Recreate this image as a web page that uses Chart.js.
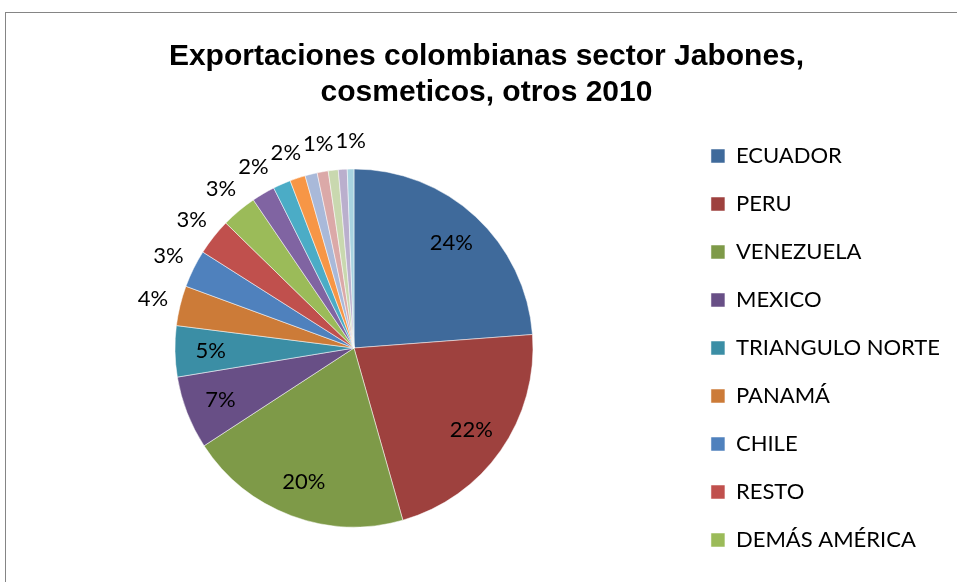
<!DOCTYPE html>
<html>
<head>
<meta charset="utf-8">
<script src="https://cdn.jsdelivr.net/npm/chart.js@4"></script>
<style>
  html, body { margin: 0; padding: 0; background: #fff; overflow: hidden; }
  #wrap { position: relative; width: 957px; height: 582px; }
  #frame { position: absolute; left: 5px; top: 12px; right: -10px; bottom: -10px; border: 1px solid #858585; }
  canvas { position: absolute; left: 0; top: 0; }
</style>
</head>
<body>
<div id="wrap">
  <div id="frame"></div>
  <canvas id="exportChart" width="957" height="582"></canvas>
</div>
<script>
const titulo = ['Exportaciones colombianas sector Jabones,', 'cosmeticos, otros 2010'];

const destinos = ['ECUADOR', 'PERU', 'VENEZUELA', 'MEXICO', 'TRIANGULO NORTE', 'PANAMÁ', 'CHILE', 'RESTO', 'DEMÁS AMÉRICA',
  'OTROS 1', 'OTROS 2', 'OTROS 3', 'OTROS 4', 'OTROS 5', 'OTROS 6', 'OTROS 7', 'OTROS 8'];

// participación (%) de cada destino
const participacion = [23.8, 21.8, 20.2, 6.6, 4.6, 3.6, 3.4, 3.3, 3.2,
  2.1, 1.6, 1.4, 1.1, 1.0, 0.9, 0.8, 0.6];

const colores = ['#3F6A9B', '#9E413E', '#7E9A48', '#684F86', '#3B8EA5', '#CC7B38', '#4F81BD', '#C0504D', '#9BBB59',
  '#8064A2', '#4BACC6', '#F79646', '#A9B9D9', '#DBA9A8', '#C9D8AF', '#BAAFCD', '#A8D3E0'];

const enLeyenda = 9;    // solo los primeros destinos van en la leyenda
const conEtiqueta = 13; // porciones con porcentaje
const fuente = 'Lato';

// ancho de la leyenda para dejarla pegada al borde derecho
const medir = document.createElement('canvas').getContext('2d');
medir.font = '22px ' + fuente;
const textoMax = Math.max(...destinos.slice(0, enLeyenda).map(t => medir.measureText(t).width));
const margenDer = Math.max(0, Math.round(957 - 685 - (26 + 14 + 11 + textoMax + 10)));

const etiquetas = {
  id: 'etiquetas',
  afterDatasetsDraw(chart) {
    const ctx = chart.ctx;
    const arcs = chart.getDatasetMeta(0).data;
    const total = participacion.reduce((a, b) => a + b, 0);
    ctx.save();
    ctx.font = '22px ' + fuente;
    ctx.fillStyle = '#000';
    ctx.textAlign = 'center';
    ctx.textBaseline = 'middle';
    let prev = null;
    arcs.forEach((arc, i) => {
      if (i >= conEtiqueta) return;
      const {x, y, startAngle, endAngle, outerRadius} =
        arc.getProps(['x', 'y', 'startAngle', 'endAngle', 'outerRadius'], true);
      const mid = (startAngle + endAngle) / 2;
      const txt = Math.round(participacion[i] * 100 / total) + '%';
      const w = ctx.measureText(txt).width;
      if (i < 5) {
        const r = outerRadius * 0.8;
        ctx.fillText(txt, x + Math.cos(mid) * r, y + Math.sin(mid) * r);
        return;
      }
      // fuera del círculo; si chocan con la anterior se corren a la derecha
      const R = outerRadius + 28;
      let lx = x + Math.cos(mid) * R;
      let ly = y + Math.sin(mid) * R;
      if (prev && Math.abs(lx - prev.x) < (w + prev.w) / 2 + 2 && Math.abs(ly - prev.y) < 22) {
        lx = prev.x + (w + prev.w) / 2 + 2;
        ly = y - Math.sqrt(Math.max(R * R - (lx - x) * (lx - x), 0));
      }
      ctx.fillText(txt, lx, ly);
      prev = {x: lx, y: ly, w};
    });
    ctx.restore();
  }
};

new Chart(document.getElementById('exportChart'), {
  type: 'pie',
  data: {
    labels: destinos,
    datasets: [{
      data: participacion,
      backgroundColor: colores,
      borderColor: 'rgba(255,255,255,0.5)',
      borderWidth: 1,
      radius: 179
    }]
  },
  options: {
    responsive: false,
    animation: false,
    layout: { padding: { top: 10, left: 23, right: margenDer, bottom: 0 } },
    plugins: {
      title: {
        display: true,
        text: titulo,
        color: '#000',
        font: { family: 'Liberation Sans', size: 30, weight: 'bold', lineHeight: 36 / 30 },
        padding: { top: 29, bottom: 3 }
      },
      legend: {
        position: 'right',
        fullSize: false,
        labels: {
          boxWidth: 14,
          boxHeight: 14,
          padding: 26,
          color: '#000',
          font: { family: fuente, size: 22 },
          filter: item => item.index < enLeyenda
        }
      },
      tooltip: { enabled: false }
    }
  },
  plugins: [etiquetas]
});
</script>
</body>
</html>
